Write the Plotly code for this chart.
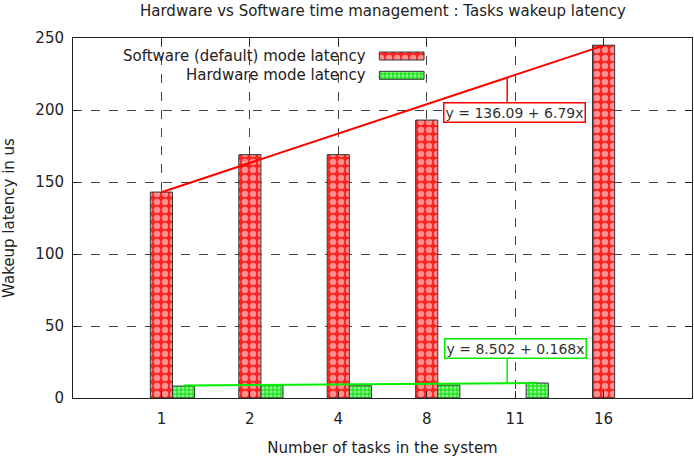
import plotly.graph_objects as go

categories = ["1", "2", "4", "8", "11", "16"]
task_counts = [1, 2, 4, 8, 11, 16]
software_latency = [143, 169, 169, 193, None, 245]
hardware_latency = [8.3, 9.0, 8.5, 9.0, 10.4, None]
y_ticks = [0, 50, 100, 150, 200, 250]

sw_fit = (136.09, 6.79)
hw_fit = (8.502, 0.168)

pos = list(range(len(categories)))
BW = 0.25
FONT = "DejaVu Sans"
FS = 15

red_pat = dict(shape=".", bgcolor="#ff2020", fgcolor="white", size=8, solidity=0.5)
green_pat = dict(shape=".", bgcolor="#22e622", fgcolor="white", size=4, solidity=0.4)

fig = go.Figure()
fig.add_trace(go.Bar(x=pos, y=software_latency, width=BW, name="Software (default) mode latency",
                     marker=dict(color="#ff2020", pattern=red_pat, line=dict(color="#333", width=1))))
fig.add_trace(go.Bar(x=[p + BW for p in pos], y=hardware_latency, width=BW, name="Hardware mode latency",
                     marker=dict(color="#22e622", pattern=green_pat, line=dict(color="#333", width=1))))

# trend lines
sw_idx = [i for i, v in enumerate(software_latency) if v is not None]
hw_idx = [i for i, v in enumerate(hardware_latency) if v is not None]
sw_x = [pos[sw_idx[0]], pos[sw_idx[-1]]]
sw_y = [sw_fit[0] + sw_fit[1] * task_counts[sw_idx[0]], sw_fit[0] + sw_fit[1] * task_counts[sw_idx[-1]]]
hw_x = [pos[hw_idx[0]] + BW, pos[hw_idx[-1]] + BW]
hw_y = [hw_fit[0] + hw_fit[1] * task_counts[hw_idx[0]], hw_fit[0] + hw_fit[1] * task_counts[hw_idx[-1]]]
fig.add_trace(go.Scatter(x=sw_x, y=sw_y, mode="lines", line=dict(color="#ff0000", width=2), showlegend=False))
fig.add_trace(go.Scatter(x=hw_x, y=hw_y, mode="lines", line=dict(color="#00ee00", width=2), showlegend=False))

# legend swatches (overlay axis in paper-like units)
fig.add_trace(go.Bar(x=[0.531], y=[0.0222], base=[0.9389], width=[0.0722], xaxis="x2", yaxis="y2",
                     marker=dict(color="#ff2020", pattern=red_pat, line=dict(color="#333", width=1)),
                     showlegend=False, hoverinfo="skip"))
fig.add_trace(go.Bar(x=[0.531], y=[0.0222], base=[0.8853], width=[0.0722], xaxis="x2", yaxis="y2",
                     marker=dict(color="#22e622", pattern=green_pat, line=dict(color="#333", width=1)),
                     showlegend=False, hoverinfo="skip"))

conn_x = 3.91
sw_conn_y = sw_y[0] + (conn_x - sw_x[0]) * (sw_y[1] - sw_y[0]) / (sw_x[1] - sw_x[0])
hw_conn_y = hw_y[0] + (conn_x - hw_x[0]) * (hw_y[1] - hw_y[0]) / (hw_x[1] - hw_x[0])

shapes = [
    dict(type="line", xref="x", yref="y", x0=conn_x, x1=conn_x, y0=sw_conn_y, y1=205,
         line=dict(color="#ff0000", width=1.5)),
    dict(type="line", xref="x", yref="y", x0=conn_x, x1=conn_x, y0=hw_conn_y, y1=28,
         line=dict(color="#00ee00", width=1.5)),
]

annotations = [
    dict(x=3.99, y=198.0, xref="x", yref="y", text="y = 136.09 + 6.79x", showarrow=False,
         font=dict(family=FONT, size=14, color="#333"), bgcolor="white", bordercolor="#ff0000",
         borderwidth=1.5, borderpad=1),
    dict(x=4.0, y=34.5, xref="x", yref="y", text="y = 8.502 + 0.168x", showarrow=False,
         font=dict(family=FONT, size=14, color="#333"), bgcolor="white", bordercolor="#00ee00",
         borderwidth=1.5, borderpad=1),
    dict(x=0.477, y=0.95, xref="paper", yref="paper", xanchor="right", yanchor="middle",
         text="Software (default) mode latency", showarrow=False,
         font=dict(family=FONT, size=FS, color="#222")),
    dict(x=0.477, y=0.896, xref="paper", yref="paper", xanchor="right", yanchor="middle",
         text="Hardware mode latency", showarrow=False,
         font=dict(family=FONT, size=FS, color="#222")),
    dict(x=0.5, y=1, xref="paper", yref="paper", xanchor="center", yanchor="bottom", yshift=16,
         text="Hardware vs Software time management : Tasks wakeup latency", showarrow=False,
         font=dict(family=FONT, size=FS, color="#222")),
]

axis_common = dict(showgrid=True, gridcolor="#444", griddash="dash", gridwidth=1,
                   showline=True, linecolor="#222", linewidth=1, mirror="ticks",
                   ticks="inside", ticklen=7, tickcolor="#222", zeroline=False,
                   automargin=False, tickfont=dict(family=FONT, size=FS, color="#222"))

fig.update_layout(
    width=694, height=457,
    margin=dict(l=73, r=2, t=38, b=59, autoexpand=False),
    paper_bgcolor="white", plot_bgcolor="white",
    showlegend=False,
    barmode="overlay",
    font=dict(family=FONT, size=FS, color="#222"),
    xaxis=dict(range=[-1, 6], tickmode="array", tickvals=pos, ticktext=categories,
               ticklabelstandoff=7,
               title=dict(text="Number of tasks in the system", standoff=16,
                          font=dict(family=FONT, size=FS)), **axis_common),
    yaxis=dict(range=[0, 250], tickmode="array", tickvals=y_ticks,
               ticklabelstandoff=5,
               title=dict(text="Wakeup latency in us", standoff=17,
                          font=dict(family=FONT, size=FS)), **axis_common),
    xaxis2=dict(range=[0, 1], overlaying="x", visible=False),
    yaxis2=dict(range=[0, 1], overlaying="y", visible=False),
    shapes=shapes,
    annotations=annotations,
)

fig.write_html("out.html", config={"displayModeBar": False},
               post_script="document.body.style.margin='0';document.body.style.overflow='hidden';")
